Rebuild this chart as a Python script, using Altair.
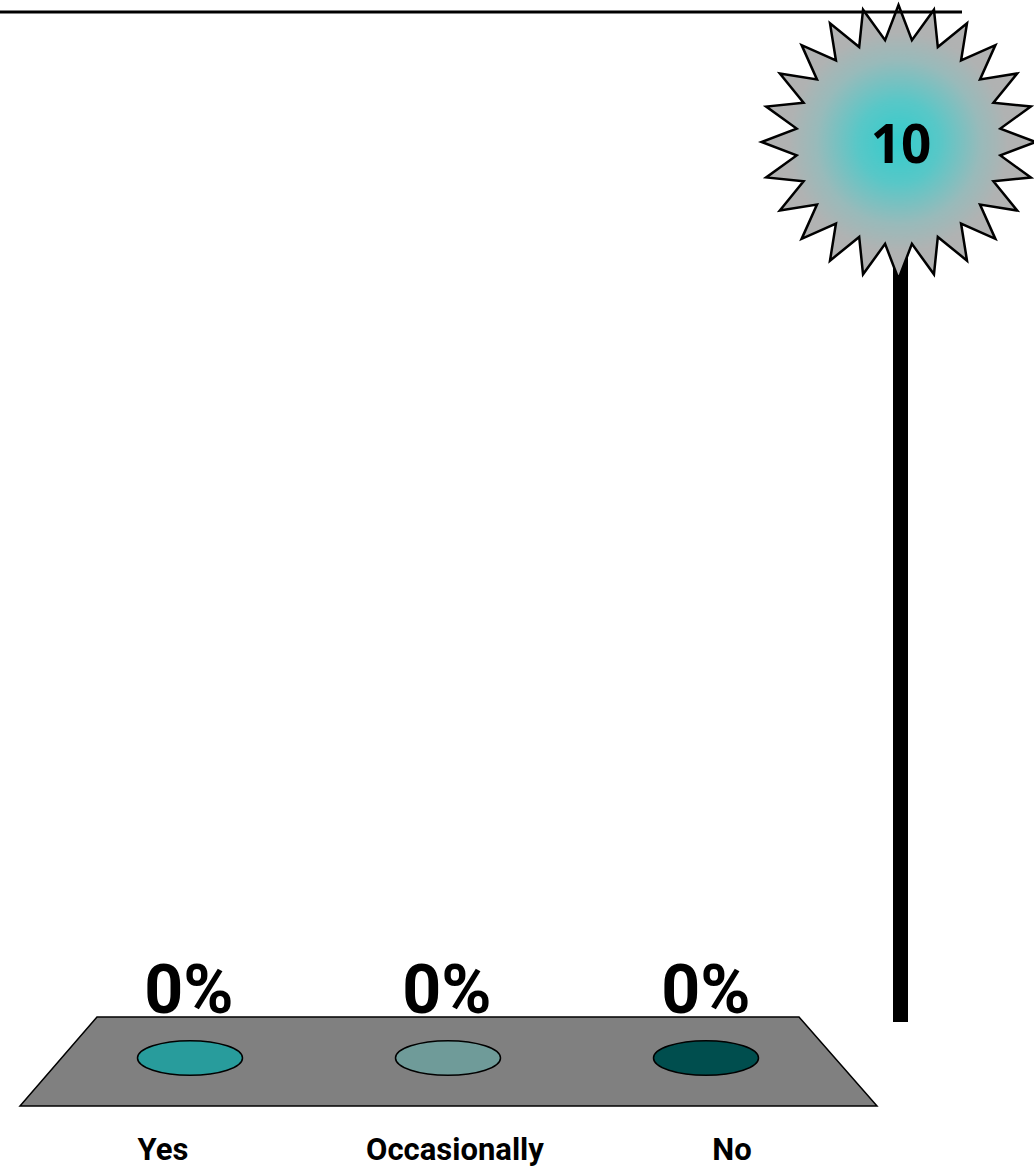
import altair as alt
import pandas as pd
import numpy as np

# ---- data ----
categories = ["Yes", "Occasionally", "No"]
percents = [0, 0, 0]
blob_colors = ["#289c9c", "#6f9b99", "#004e4e"]
countdown_value = ["10"]
slide_number = ["23"]

# ---- layout (pixel coordinates of the slide) ----
W, H = 1034, 1168
blob_x = [190, 448, 706]
blob_y = [1058, 1058, 1058]
pct_x = [189, 447, 706]
pct_y = [1013, 1013, 1013]
label_x = [163, 455, 732]
label_y = [1160, 1160, 1160]
star_center = [898.5, 142]
star_radius = 137
pole = dict(x=[893], x2=[908], y=[200], y2=[1022])
top_line = dict(x=[0], x2=[962], y=[12])
platform = dict(y=[1017, 1106], x=[97, 20], x2=[799, 877])

xs = alt.Scale(domain=[0, W], nice=False, zero=False)
ys = alt.Scale(domain=[0, H], reverse=True, nice=False, zero=False)

def X(f="x"):
    return alt.X(f + ":Q", scale=xs, axis=None)

def Y(f="y"):
    return alt.Y(f + ":Q", scale=ys, axis=None)

# starburst path (24 points)
n = 24
pts = []
for i in range(2 * n):
    a = -np.pi / 2 + i * np.pi / n
    r = 1.0 if i % 2 == 0 else 0.75
    pts.append(f"{r*np.cos(a):.4f},{r*np.sin(a):.4f}")
star_path = "M" + " L".join(pts) + " Z"
ellipse_path = "M-1,0 A1,0.33 0 1,1 1,0 A1,0.33 0 1,1 -1,0 Z"

pole_layer = alt.Chart(pd.DataFrame(pole)).mark_rect(color="black").encode(
    x=X(), x2="x2:Q", y=Y(), y2="y2:Q")

star_layer = alt.Chart(pd.DataFrame({"x": [star_center[0]], "y": [star_center[1]]})).mark_point(
    shape=star_path, size=(2 * star_radius) ** 2, filled=True, opacity=1,
    fill=alt.RadialGradient(gradient="radial", stops=[
        alt.GradientStop(offset=0, color="#33cccc"),
        alt.GradientStop(offset=0.3, color="#58c7c7"),
        alt.GradientStop(offset=0.6, color="#98baba"),
        alt.GradientStop(offset=0.8, color="#b0b2b2"),
        alt.GradientStop(offset=1, color="#b2b2b2")]),
    stroke="black", strokeWidth=2.5, strokeJoin="miter").encode(x=X(), y=Y())

star_text = alt.Chart(pd.DataFrame({"x": [901], "y": [163], "t": countdown_value})).mark_text(
    font="Open Sans", fontWeight="bold", fontSize=53, align="center", baseline="alphabetic",
    color="black").encode(x=X(), y=Y(), text="t:N")

line_layer = alt.Chart(pd.DataFrame(top_line)).mark_rule(color="black", strokeWidth=3).encode(
    x=X(), x2="x2:Q", y=Y())

platform_fill = alt.Chart(pd.DataFrame(platform)).mark_area(
    orient="horizontal", fill="#808080", stroke="black", strokeWidth=1.5, opacity=1).encode(
    y=Y(), x=X(), x2="x2:Q")

bdf = pd.DataFrame({"category": categories, "x": blob_x, "y": blob_y})
blob_layer = alt.Chart(bdf).mark_point(
    shape=ellipse_path, size=105 ** 2, filled=True, opacity=1, stroke="black", strokeWidth=1.5).encode(
    x=X(), y=Y(),
    fill=alt.Fill("category:N", scale=alt.Scale(domain=categories, range=blob_colors), legend=None))

pdf = pd.DataFrame({"t": [f"{p}%" for p in percents], "x": pct_x, "y": pct_y})
pct_layer = alt.Chart(pdf).mark_text(
    font="Roboto", fontWeight="bold", fontSize=68, align="center",
    baseline="alphabetic", color="black").encode(x=X(), y=Y(), text="t:N")

ldf = pd.DataFrame({"t": categories, "x": label_x, "y": label_y})
label_layer = alt.Chart(ldf).mark_text(
    font="Roboto", fontWeight="bold", fontSize=31, align="center",
    baseline="alphabetic", color="black").encode(x=X(), y=Y(), text="t:N")

sn_layer = alt.Chart(pd.DataFrame({"t": slide_number, "x": [920], "y": [1186]})).mark_text(
    font="Liberation Sans", fontSize=26, align="center", baseline="alphabetic",
    color="black").encode(x=X(), y=Y(), text="t:N")

chart = alt.layer(
    pole_layer, star_layer, star_text, line_layer, platform_fill, blob_layer,
    pct_layer, label_layer, sn_layer
).properties(
    width=W, height=H, padding=0, autosize=alt.AutoSizeParams(type="none"),
    background="white"
).configure_view(stroke=None)

chart.save("out.html", embed_options={"renderer": "svg", "actions": False})
